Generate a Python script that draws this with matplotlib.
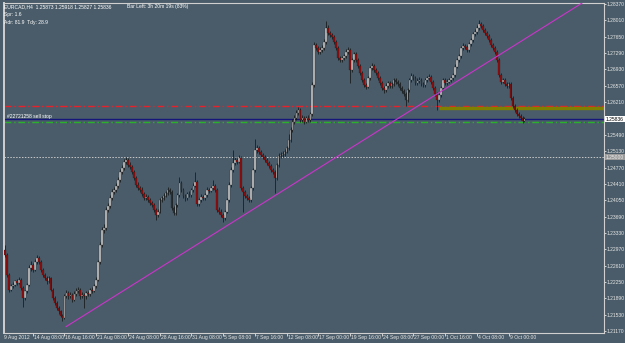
import matplotlib
matplotlib.use("Agg")
import matplotlib.pyplot as plt
import matplotlib.transforms as mtransforms
import numpy as np

# EURCAD H4 candles (prices)
first_open = 1.2296
closes = [1.2285, 1.2241, 1.2208, 1.2215, 1.2219, 1.2226, 1.2223, 1.2230, 1.2212, 1.2190,
          1.2204, 1.2219, 1.2256, 1.2263, 1.2252, 1.2270, 1.2278, 1.2270, 1.2252, 1.2241,
          1.2234, 1.2226, 1.2234, 1.2208, 1.2190, 1.2179, 1.2168, 1.2160, 1.2151, 1.2146,
          1.2195, 1.2201, 1.2193, 1.2197, 1.2186, 1.2199, 1.2204, 1.2208, 1.2193, 1.2197,
          1.2193, 1.2201, 1.2199, 1.2208, 1.2206, 1.2215, 1.2230, 1.2270, 1.2307, 1.2340,
          1.2344, 1.2384, 1.2393, 1.2410, 1.2424, 1.2428, 1.2437, 1.2450, 1.2468, 1.2476,
          1.2490, 1.2494, 1.2483, 1.2479, 1.2468, 1.2454, 1.2439, 1.2432, 1.2428, 1.2419,
          1.2410, 1.2413, 1.2406, 1.2399, 1.2395, 1.2384, 1.2373, 1.2380, 1.2406, 1.2410,
          1.2415, 1.2421, 1.2428, 1.2424, 1.2388, 1.2377, 1.2395, 1.2417, 1.2443, 1.2428,
          1.2415, 1.2410, 1.2419, 1.2417, 1.2428, 1.2437, 1.2446, 1.2397, 1.2406, 1.2413,
          1.2410, 1.2417, 1.2428, 1.2426, 1.2432, 1.2437, 1.2428, 1.2384, 1.2380, 1.2373,
          1.2366, 1.2380, 1.2406, 1.2439, 1.2472, 1.2487, 1.2494, 1.2490, 1.2498, 1.2432,
          1.2424, 1.2415, 1.2410, 1.2406, 1.2432, 1.2472, 1.2516, 1.2520, 1.2512, 1.2505,
          1.2501, 1.2494, 1.2487, 1.2481, 1.2472, 1.2468, 1.2454, 1.2483, 1.2503, 1.2505,
          1.2507, 1.2512, 1.2520, 1.2538, 1.2560, 1.2578, 1.2586, 1.2597, 1.2604, 1.2582,
          1.2586, 1.2578, 1.2586, 1.2582, 1.2595, 1.2659, 1.2747, 1.2740, 1.2732, 1.2736,
          1.2740, 1.2754, 1.2784, 1.2773, 1.2769, 1.2765, 1.2754, 1.2740, 1.2718, 1.2714,
          1.2718, 1.2723, 1.2732, 1.2736, 1.2692, 1.2714, 1.2727, 1.2714, 1.2701, 1.2685,
          1.2670, 1.2659, 1.2655, 1.2674, 1.2696, 1.2701, 1.2692, 1.2685, 1.2674, 1.2663,
          1.2652, 1.2648, 1.2657, 1.2663, 1.2657, 1.2661, 1.2670, 1.2666, 1.2661, 1.2652,
          1.2646, 1.2639, 1.2626, 1.2648, 1.2670, 1.2679, 1.2674, 1.2663, 1.2668, 1.2670,
          1.2661, 1.2659, 1.2670, 1.2674, 1.2677, 1.2666, 1.2652, 1.2639, 1.2626, 1.2637,
          1.2652, 1.2670, 1.2663, 1.2666, 1.2670, 1.2674, 1.2681, 1.2699, 1.2714, 1.2723,
          1.2740, 1.2745, 1.2743, 1.2736, 1.2749, 1.2758, 1.2771, 1.2776, 1.2784, 1.2793,
          1.2789, 1.2780, 1.2773, 1.2767, 1.2758, 1.2747, 1.2740, 1.2732, 1.2714, 1.2681,
          1.2666, 1.2670, 1.2661, 1.2657, 1.2661, 1.2630, 1.2613, 1.2604, 1.2595, 1.2591,
          1.2586, 1.2580, 1.25836]
highs = [1.2307, 1.2289, 1.2245, 1.2220, 1.2224, 1.2230, 1.2231, 1.2235, 1.2233, 1.2215,
         1.2208, 1.2223, 1.2262, 1.2272, 1.2266, 1.2275, 1.2285, 1.2283, 1.2273, 1.2256,
         1.2245, 1.2238, 1.2239, 1.2237, 1.2211, 1.2193, 1.2183, 1.2171, 1.2164, 1.2155,
         1.2199, 1.2207, 1.2205, 1.2203, 1.2200, 1.2204, 1.2212, 1.2214, 1.2211, 1.2202,
         1.2200, 1.2206, 1.2205, 1.2212, 1.2213, 1.2220, 1.2235, 1.2274, 1.2312, 1.2346,
         1.2352, 1.2390, 1.2399, 1.2416, 1.2430, 1.2435, 1.2443, 1.2456, 1.2474, 1.2482,
         1.2495, 1.2500, 1.2498, 1.2489, 1.2483, 1.2472, 1.2458, 1.2444, 1.2437, 1.2433,
         1.2423, 1.2418, 1.2417, 1.2410, 1.2404, 1.2399, 1.2388, 1.2385, 1.2410, 1.2415,
         1.2420, 1.2426, 1.2433, 1.2432, 1.2428, 1.2392, 1.2399, 1.2421, 1.2455, 1.2447,
         1.2432, 1.2419, 1.2424, 1.2425, 1.2432, 1.2442, 1.2468, 1.2450, 1.2410, 1.2418,
         1.2417, 1.2421, 1.2433, 1.2432, 1.2437, 1.2450, 1.2441, 1.2432, 1.2389, 1.2385,
         1.2377, 1.2384, 1.2410, 1.2444, 1.2478, 1.2516, 1.2500, 1.2499, 1.2504, 1.2502,
         1.2436, 1.2428, 1.2419, 1.2414, 1.2436, 1.2477, 1.2540, 1.2526, 1.2524, 1.2516,
         1.2509, 1.2505, 1.2498, 1.2491, 1.2485, 1.2476, 1.2471, 1.2488, 1.2508, 1.2511,
         1.2513, 1.2517, 1.2525, 1.2550, 1.2566, 1.2584, 1.2592, 1.2603, 1.2611, 1.2608,
         1.2592, 1.2590, 1.2591, 1.2592, 1.2600, 1.2665, 1.2754, 1.2752, 1.2745, 1.2742,
         1.2746, 1.2760, 1.2800, 1.2790, 1.2778, 1.2774, 1.2769, 1.2758, 1.2744, 1.2723,
         1.2723, 1.2728, 1.2737, 1.2742, 1.2740, 1.2719, 1.2732, 1.2731, 1.2718, 1.2705,
         1.2689, 1.2674, 1.2664, 1.2679, 1.2701, 1.2707, 1.2705, 1.2696, 1.2689, 1.2678,
         1.2667, 1.2656, 1.2662, 1.2668, 1.2667, 1.2666, 1.2675, 1.2674, 1.2670, 1.2665,
         1.2656, 1.2650, 1.2643, 1.2653, 1.2675, 1.2685, 1.2683, 1.2678, 1.2673, 1.2676,
         1.2674, 1.2665, 1.2675, 1.2679, 1.2683, 1.2681, 1.2670, 1.2656, 1.2643, 1.2642,
         1.2657, 1.2675, 1.2674, 1.2671, 1.2675, 1.2679, 1.2686, 1.2704, 1.2719, 1.2728,
         1.2745, 1.2751, 1.2750, 1.2747, 1.2754, 1.2763, 1.2776, 1.2782, 1.2790, 1.2802,
         1.2798, 1.2793, 1.2784, 1.2777, 1.2771, 1.2762, 1.2751, 1.2744, 1.2736, 1.2718,
         1.2685, 1.2675, 1.2674, 1.2665, 1.2666, 1.2665, 1.2634, 1.2617, 1.2608, 1.2599,
         1.2595, 1.2590, 1.2588]
lows = [1.2280, 1.2237, 1.2203, 1.2204, 1.2211, 1.2215, 1.2218, 1.2220, 1.2207, 1.2170,
        1.2186, 1.2200, 1.2216, 1.2250, 1.2247, 1.2249, 1.2265, 1.2264, 1.2248, 1.2236,
        1.2229, 1.2221, 1.2222, 1.2204, 1.2185, 1.2174, 1.2164, 1.2155, 1.2147, 1.2140,
        1.2143, 1.2190, 1.2188, 1.2189, 1.2181, 1.2183, 1.2195, 1.2200, 1.2188, 1.2189,
        1.2168, 1.2188, 1.2194, 1.2195, 1.2201, 1.2202, 1.2211, 1.2226, 1.2265, 1.2302,
        1.2333, 1.2340, 1.2378, 1.2388, 1.2405, 1.2418, 1.2423, 1.2432, 1.2445, 1.2462,
        1.2471, 1.2485, 1.2478, 1.2473, 1.2463, 1.2449, 1.2434, 1.2427, 1.2423, 1.2414,
        1.2405, 1.2406, 1.2400, 1.2394, 1.2389, 1.2379, 1.2362, 1.2368, 1.2376, 1.2401,
        1.2405, 1.2411, 1.2417, 1.2419, 1.2383, 1.2372, 1.2373, 1.2391, 1.2413, 1.2423,
        1.2410, 1.2404, 1.2406, 1.2412, 1.2413, 1.2424, 1.2433, 1.2392, 1.2393, 1.2402,
        1.2405, 1.2406, 1.2413, 1.2421, 1.2422, 1.2428, 1.2424, 1.2380, 1.2375, 1.2368,
        1.2358, 1.2362, 1.2376, 1.2402, 1.2435, 1.2468, 1.2482, 1.2485, 1.2486, 1.2427,
        1.2378, 1.2410, 1.2405, 1.2401, 1.2402, 1.2428, 1.2468, 1.2510, 1.2507, 1.2500,
        1.2496, 1.2489, 1.2482, 1.2476, 1.2467, 1.2463, 1.2420, 1.2450, 1.2479, 1.2498,
        1.2500, 1.2503, 1.2508, 1.2516, 1.2534, 1.2556, 1.2573, 1.2581, 1.2592, 1.2577,
        1.2577, 1.2573, 1.2574, 1.2577, 1.2578, 1.2591, 1.2655, 1.2735, 1.2727, 1.2728,
        1.2731, 1.2736, 1.2750, 1.2768, 1.2764, 1.2760, 1.2749, 1.2735, 1.2713, 1.2709,
        1.2710, 1.2714, 1.2719, 1.2728, 1.2663, 1.2688, 1.2710, 1.2709, 1.2696, 1.2680,
        1.2665, 1.2654, 1.2650, 1.2651, 1.2670, 1.2691, 1.2687, 1.2680, 1.2669, 1.2658,
        1.2647, 1.2641, 1.2644, 1.2653, 1.2652, 1.2652, 1.2657, 1.2661, 1.2656, 1.2647,
        1.2641, 1.2634, 1.2612, 1.2622, 1.2644, 1.2666, 1.2669, 1.2658, 1.2659, 1.2664,
        1.2656, 1.2654, 1.2655, 1.2666, 1.2670, 1.2661, 1.2647, 1.2634, 1.2604, 1.2621,
        1.2633, 1.2648, 1.2658, 1.2659, 1.2662, 1.2666, 1.2670, 1.2677, 1.2695, 1.2710,
        1.2719, 1.2735, 1.2738, 1.2731, 1.2732, 1.2745, 1.2754, 1.2767, 1.2772, 1.2780,
        1.2784, 1.2775, 1.2768, 1.2762, 1.2753, 1.2742, 1.2735, 1.2727, 1.2709, 1.2676,
        1.2661, 1.2662, 1.2656, 1.2652, 1.2653, 1.2625, 1.2608, 1.2599, 1.2590, 1.2586,
        1.2581, 1.2576, 1.2577]

# chart objects
sell_stop_price = 1.25775
red_level = 1.26130
olive_level = 1.26080
olive_start_bar = 219
bid_price = 1.25836
round_level = 1.25000
trend_p0 = (30.8, 1.21266)
trend_p1 = (78.2, 1.22564)

price_ticks = [1.28370, 1.28010, 1.27650, 1.27290, 1.26930, 1.26570, 1.26210, 1.25850,
               1.25490, 1.25130, 1.24770, 1.24410, 1.24050, 1.23690, 1.23330, 1.22970,
               1.22610, 1.22250, 1.21890, 1.21530, 1.21170]
date_ticks = [14, 30, 46, 62, 78, 94, 110, 126, 142, 158, 174, 190, 206, 222, 238, 254]
date_labels = ["14 Aug 08:00", "16 Aug 16:00", "21 Aug 08:00", "24 Aug 08:00",
               "28 Aug 16:00", "31 Aug 08:00", "5 Sep 08:00", "7 Sep 16:00",
               "12 Sep 08:00", "17 Sep 00:00", "19 Sep 16:00", "24 Sep 08:00",
               "27 Sep 00:00", "1 Oct 16:00", "4 Oct 08:00", "9 Oct 00:00"]

bg = '#4a5c69'
fg = '#e6e6e6'
fs = 3.6
plt.rcParams['font.family'] = ['Liberation Sans', 'DejaVu Sans']

W, H = 625, 343
fig = plt.figure(figsize=(W / 100, H / 100), dpi=100, facecolor=bg)
ax = fig.add_axes([4 / W, 1 - 333 / H, 600 / W, 330 / H], facecolor=bg)

n = len(closes)
xs = np.arange(n)
opens = np.concatenate([[first_open], closes[:-1]])
closes_a = np.array(closes)

ax.vlines(xs, lows, highs, color='#101010', lw=0.5, zorder=3)
up = closes_a >= opens
bottoms = np.minimum(opens, closes_a)
heights = np.maximum(np.abs(closes_a - opens), 0.00003)
ax.bar(xs[up], heights[up], bottom=bottoms[up], width=0.85, color='#c4c4c4',
       edgecolor='#202020', linewidth=0.2, zorder=4)
ax.bar(xs[~up], heights[~up], bottom=bottoms[~up], width=0.85, color='#960a0a',
       edgecolor='#202020', linewidth=0.2, zorder=4)

# levels
ax.axhline(red_level, color='#e8202a', lw=1.0, dashes=(5, 2, 1, 2), zorder=2)
ax.hlines(olive_level, olive_start_bar, 302, color='#808000', lw=2.4, zorder=2)
ax.axhline(bid_price, color='#16167a', lw=1.0, zorder=2)
ax.axhline(sell_stop_price, color='#2ab02a', lw=1.0, dashes=(5, 2, 1, 2), zorder=2)
ax.axhline(round_level, color='#c8c8c8', lw=0.7, ls=(0, (1.5, 1.5)), zorder=2)
ax.text(1, bid_price + 0.0001, "#22721258 sell stop", color='white', fontsize=fs,
        va='bottom', ha='left', zorder=6)

# trendline
slope = (trend_p1[1] - trend_p0[1]) / (trend_p1[0] - trend_p0[0])
tx = np.array([trend_p0[0], 305])
ax.plot(tx, trend_p0[1] + slope * (tx - trend_p0[0]), color='#cc33cc', lw=0.8, zorder=5)

ax.set_xlim(-0.5, 302.1)
ax.set_ylim(1.21126, 1.28392)

for s in ax.spines.values():
    s.set_color('#d0d0d0')
    s.set_linewidth(0.8)
ax.spines['left'].set_linewidth(1.4)

ax.yaxis.tick_right()
ax.set_yticks(price_ticks)
ax.set_yticklabels(["%.5f" % p for p in price_ticks])
ax.tick_params(axis='y', direction='out', length=1.5, width=0.6, color=fg, labelcolor=fg,
               labelsize=fs, pad=0.5)
ax.set_xticks(date_ticks)
ax.set_xticklabels([])
ax.tick_params(axis='x', direction='out', length=2, width=0.6, color=fg)

trans = mtransforms.blended_transform_factory(ax.transData, ax.transAxes)
ax.text(-0.6, -0.007, "9 Aug 2012", transform=trans, color=fg, fontsize=fs,
        ha='left', va='top', clip_on=False)
for pos, lab in zip(date_ticks, date_labels):
    ax.text(pos + 0.5, -0.007, lab, transform=trans, color=fg, fontsize=fs,
            ha='left', va='top', clip_on=False)

# price boxes on the axis
ytrans = mtransforms.blended_transform_factory(ax.transAxes, ax.transData)
ax.text(1.0035, bid_price, "%.5f" % bid_price, transform=ytrans, color='black', fontsize=fs,
        ha='left', va='center', clip_on=False, zorder=10,
        bbox=dict(boxstyle='square,pad=0.15', fc='white', ec='none'))
ax.text(1.0035, round_level, "%.5f" % round_level, transform=ytrans, color='#eeeeee',
        fontsize=fs, ha='left', va='center', clip_on=False, zorder=10,
        bbox=dict(boxstyle='square,pad=0.15', fc='#9a9a9a', ec='none'))

# header texts
fig.text(4 / W, 1 - 4 / H, "EURCAD,H4  1.25873 1.25918 1.25827 1.25836", color='white',
         fontsize=fs, va='top', ha='left')
fig.text(127 / W, 1 - 4 / H, "Bar Left: 3h 20m 19s (83%)", color='white',
         fontsize=fs, va='top', ha='left')
fig.text(4 / W, 1 - 12 / H, "Spr: 1.6", color='white', fontsize=fs, va='top', ha='left')
fig.text(4 / W, 1 - 20 / H, "Adr: 81.9  Tdy: 28.9", color='white', fontsize=fs,
         va='top', ha='left')

fig.savefig('out.png', dpi=100, facecolor=bg)
